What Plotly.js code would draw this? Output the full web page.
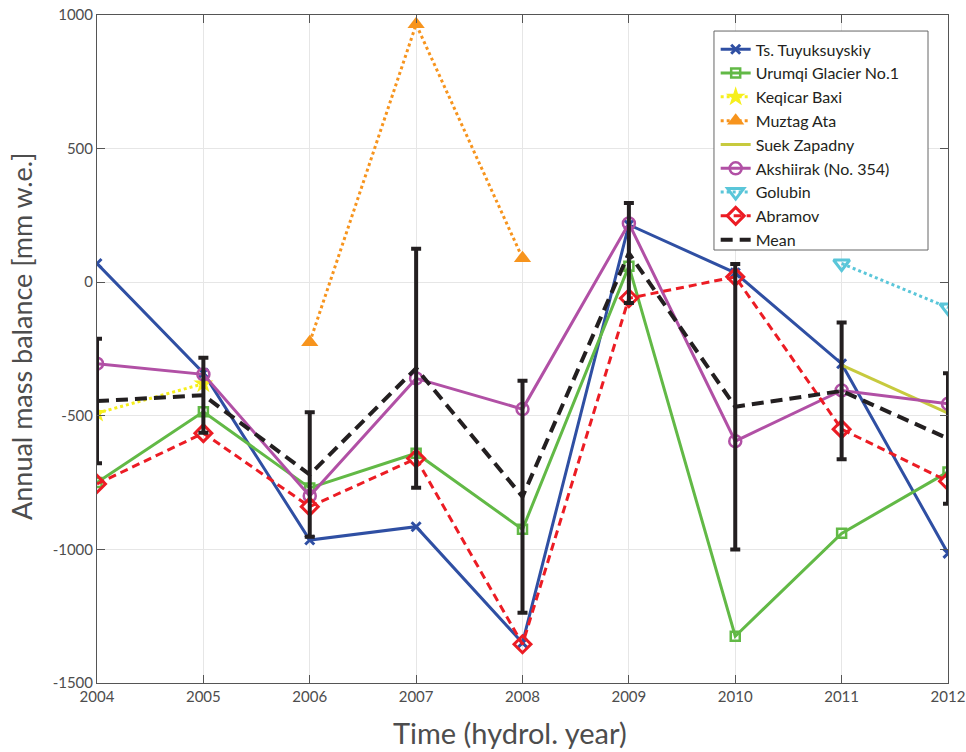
<!DOCTYPE html>
<html>
<head>
<meta charset="utf-8">
<script src="https://cdn.plot.ly/plotly-3.0.1.min.js"></script>
<style>html,body{margin:0;padding:0;background:#fff;}#chart{width:966px;height:752px;}</style>
</head>
<body>
<div id="chart"></div>
<script>
const years = [2004, 2005, 2006, 2007, 2008, 2009, 2010, 2011, 2012];
const tuyuksu = [70, -340, -965, -915, -1350, 215, 35, -305, -1015];
const urumqi = [-750, -485, -770, -640, -925, 60, -1325, -940, -710];
const keqicarYears = [2004, 2005];
const keqicar = [-490, -380];
const muztagYears = [2006, 2007, 2008];
const muztag = [-225, 965, 90];
const suekYears = [2011, 2012];
const suek = [-310, -490];
const akshiirak = [-305, -345, -800, -360, -475, 220, -595, -405, -455];
const golubinYears = [2011, 2012];
const golubin = [70, -95];
const abramov = [-755, -565, -840, -660, -1355, -60, 20, -550, -745];
const meanVals = [-445, -423, -720, -322, -803, 109, -466, -407, -585];
const meanErr = [233, 140, 233, 447, 434, 187, 534, 256, 244];
const yTicks = [-1500, -1000, -500, 0, 500, 1000];

const FONT = 'Lato, "Open Sans", sans-serif';

const traces = [
  {x: years, y: tuyuksu, name: 'Ts. Tuyuksuyskiy', mode: 'lines+markers',
   line: {color: '#2f4fa3', width: 3}, marker: {symbol: 'x-thin-open', size: 9, line: {color: '#2f4fa3', width: 3}}},
  {x: years, y: urumqi, name: 'Urumqi Glacier No.1', mode: 'lines+markers',
   line: {color: '#62b946', width: 3}, marker: {symbol: 'square-open', size: 9, color: '#62b946', line: {width: 2.5}}},
  {x: keqicarYears, y: keqicar, name: 'Keqicar Baxi', mode: 'lines+markers',
   line: {color: '#f6ef1c', width: 3, dash: 'dot'}, marker: {symbol: 'star', size: 15, color: '#f6ef1c'}},
  {x: muztagYears, y: muztag, name: 'Muztag Ata', mode: 'lines+markers',
   line: {color: '#f7941d', width: 3, dash: 'dot'}, marker: {symbol: 'triangle-up', size: 15, color: '#f7941d'}},
  {x: suekYears, y: suek, name: 'Suek Zapadny', mode: 'lines+markers',
   line: {color: '#c7ca3e', width: 3}, marker: {symbol: 'circle', size: 3, color: '#c7ca3e'}},
  {x: years, y: akshiirak, name: 'Akshiirak (No. 354)', mode: 'lines+markers',
   line: {color: '#b150a5', width: 3}, marker: {symbol: 'circle-open', size: 12, color: '#b150a5', line: {width: 2.5}}},
  {x: golubinYears, y: golubin, name: 'Golubin', mode: 'lines+markers',
   line: {color: '#5ac6d9', width: 3, dash: 'dot'}, marker: {symbol: 'triangle-down-open', size: 14, color: '#5ac6d9', line: {width: 3}}},
  {x: years, y: abramov, name: 'Abramov', mode: 'lines+markers',
   line: {color: '#ec1c24', width: 3, dash: '8px,5px'}, marker: {symbol: 'diamond-open', size: 13, color: '#ec1c24', line: {width: 3}}},
  {x: years, y: meanVals, name: 'Mean', mode: 'lines',
   line: {color: '#231f20', width: 4, dash: '12px,7px'},
   error_y: {type: 'data', array: meanErr, visible: true, color: '#231f20', thickness: 4, width: 5}}
];

const axisFont = {family: FONT, size: 15, color: '#4d4d4d'};
const layout = {
  width: 966, height: 752,
  margin: {l: 97, r: 18, t: 15, b: 69},
  paper_bgcolor: '#ffffff', plot_bgcolor: '#ffffff',
  font: {family: FONT, color: '#333'},
  showlegend: true,
  legend: {x: 0.727, y: 0.974, xanchor: 'left', yanchor: 'top',
           bgcolor: 'rgba(0,0,0,0)', borderwidth: 0,
           font: {family: FONT, size: 16, color: '#231f20'},
           tracegroupgap: 0},
  shapes: [{type: 'rect', xref: 'paper', yref: 'paper', x0: 0.725, x1: 0.9765, y0: 0.6482, y1: 0.976,
            fillcolor: '#ffffff', line: {color: '#666', width: 1}, layer: 'above'}],
  annotations: [
    {text: 'Annual mass balance [mm w.e.]', xref: 'paper', yref: 'paper',
     x: 0, y: 0.518, xanchor: 'center', yanchor: 'middle', xshift: -75, textangle: -90,
     showarrow: false, font: {family: FONT, size: 27, color: '#4d4d4d'}},
    {text: 'Time (hydrol. year)', xref: 'paper', yref: 'paper',
     x: 0.5, y: 0, xanchor: 'center', yanchor: 'middle', yshift: -49, xshift: -13,
     showarrow: false, font: {family: FONT, size: 29, color: '#4d4d4d'}}
  ],
  xaxis: {range: [2004, 2012], tickvals: years, ticktext: years.map(String),
          tickfont: axisFont, showgrid: true, gridcolor: '#e6e6e6', gridwidth: 1,
          zeroline: false, showline: true, linecolor: '#555', linewidth: 1, mirror: 'ticks',
          ticks: 'inside', ticklen: 8, tickcolor: '#555', automargin: false},
  yaxis: {range: [-1500, 1000], tickvals: yTicks, ticktext: yTicks.map(String),
          tickfont: axisFont, showgrid: true, gridcolor: '#e6e6e6', gridwidth: 1,
          zeroline: false, showline: true, linecolor: '#555', linewidth: 1, mirror: 'ticks',
          ticks: 'inside', ticklen: 8, tickcolor: '#555', automargin: false}
};

Plotly.newPlot('chart', traces, layout, {displayModeBar: false, staticPlot: true});
</script>
</body>
</html>
